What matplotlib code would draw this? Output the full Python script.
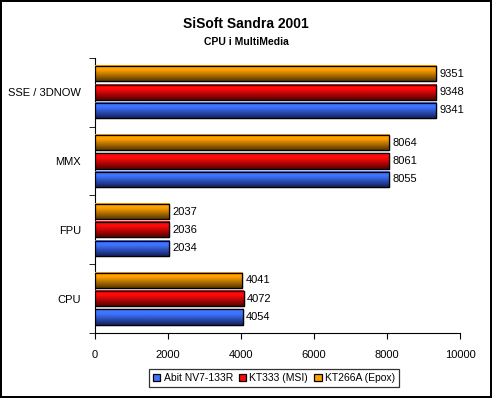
import numpy as np
import matplotlib.pyplot as plt
from matplotlib.colors import LinearSegmentedColormap

plt.rcParams['font.family'] = ['Liberation Sans', 'DejaVu Sans']

# Data
categories = ['CPU', 'FPU', 'MMX', 'SSE / 3DNOW']
abit = [4054, 2034, 8055, 9341]
kt333 = [4072, 2036, 8061, 9348]
kt266a = [4041, 2037, 8064, 9351]
series_names = ['Abit NV7-133R', 'KT333 (MSI)', 'KT266A (Epox)']

# (light top, dark bottom) for gradient fills
colors = [('#3f74ff', '#14205e'), ('#ff0a0a', '#580000'), ('#ffa000', '#583600')]

fig = plt.figure(figsize=(4.92, 3.98), dpi=100)
fig.patch.set_edgecolor('black')
fig.patch.set_linewidth(1.5)
ax = fig.add_axes([0.193, 0.163, 0.742, 0.692])

y = np.arange(len(categories))
h = 0.22
step = 0.265
offsets = [-step, 0, step]
all_series = [abit, kt333, kt266a]

grad = np.linspace(0, 1, 64).reshape(-1, 1)
for vals, off, (light, dark), name in zip(all_series, offsets, colors, series_names):
    bars = ax.barh(y + off, vals, height=h, color=light, edgecolor='black',
                   linewidth=0.9, label=name, zorder=3)
    cmap = LinearSegmentedColormap.from_list(name, [(0, light), (0.3, light), (1, dark)])
    for b, v in zip(bars, vals):
        x0, y0 = b.get_x(), b.get_y()
        w, hh = b.get_width(), b.get_height()
        # origin='upper' puts row 0 (light) at the visual top of the bar
        ax.imshow(grad, cmap=cmap, aspect='auto', zorder=3.5, interpolation='bilinear',
                  extent=(x0, x0 + w, y0, y0 + hh), origin='upper')
        ax.add_patch(plt.Rectangle((x0, y0), w, hh, fill=False,
                                   edgecolor='black', linewidth=0.9, zorder=4))
        ax.text(v + 90, y0 + hh / 2, str(v), va='center', ha='left', fontsize=8)

ax.set_xlim(0, 10000)
ax.set_ylim(-0.5, 3.5)
ax.set_xticks([0, 2000, 4000, 6000, 8000, 10000])
ax.set_yticks(y)
ax.set_yticklabels(categories, fontsize=8)
ax.set_yticks(np.arange(-0.5, 4, 1), minor=True)
ax.tick_params(axis='y', which='major', length=0, pad=10)
ax.tick_params(axis='y', which='minor', length=4, direction='out')
ax.tick_params(axis='x', length=4, labelsize=8, pad=8)
ax.spines['top'].set_visible(False)
ax.spines['right'].set_visible(False)

fig.text(0.5, 0.93, 'SiSoft Sandra 2001', ha='center', fontsize=10, fontweight='bold')
fig.text(0.5, 0.888, 'CPU i MultiMedia', ha='center', fontsize=7.5, fontweight='bold')

handles, labels = ax.get_legend_handles_labels()
leg = fig.legend(handles, labels, loc='center', bbox_to_anchor=(0.557, 0.05), ncol=3,
                 fontsize=7.5, frameon=True, fancybox=False, edgecolor='black',
                 handlelength=0.7, handleheight=0.7, handletextpad=0.3,
                 columnspacing=0.6, borderpad=0.4)
leg.get_frame().set_linewidth(0.9)

fig.savefig('out.png', dpi=100)
